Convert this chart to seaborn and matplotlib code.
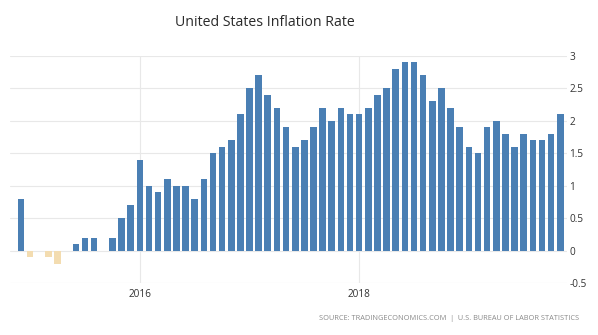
import matplotlib
matplotlib.use("Agg")
import matplotlib.pyplot as plt
import seaborn as sns
import pandas as pd

# Monthly US CPI inflation, year over year (%), Dec 2014 - Nov 2019
months = pd.date_range("2014-12-01", "2019-11-01", freq="MS").strftime("%Y-%m").tolist()
inflation = [
    0.8,
    -0.1, 0.0, -0.1, -0.2, 0.0, 0.1, 0.2, 0.2, 0.0, 0.2, 0.5, 0.7,
    1.4, 1.0, 0.9, 1.1, 1.0, 1.0, 0.8, 1.1, 1.5, 1.6, 1.7, 2.1,
    2.5, 2.7, 2.4, 2.2, 1.9, 1.6, 1.7, 1.9, 2.2, 2.0, 2.2, 2.1,
    2.1, 2.2, 2.4, 2.5, 2.8, 2.9, 2.9, 2.7, 2.3, 2.5, 2.2, 1.9,
    1.6, 1.5, 1.9, 2.0, 1.8, 1.6, 1.8, 1.7, 1.7, 1.8, 2.1,
]
year_ticks = ["2016-01", "2018-01"]
year_labels = ["2016", "2018"]
y_ticks = [-0.5, 0, 0.5, 1, 1.5, 2, 2.5, 3]
y_labels = ["-0.5", "0", "0.5", "1", "1.5", "2", "2.5", "3"]

df = pd.DataFrame({"month": months, "rate": inflation})
df["sign"] = ["neg" if v < 0 else "pos" for v in df["rate"]]

sns.set_theme(style="white")
plt.rcParams["font.family"] = ["Open Sans", "DejaVu Sans"]

fig = plt.figure(figsize=(5.98, 3.35), dpi=100)
ax = fig.add_axes([0.0167, 0.155, 0.931, 0.678])

sns.barplot(
    data=df, x="month", y="rate", hue="sign",
    palette={"pos": "#4a7fb4", "neg": "#f3dcb0"},
    dodge=False, width=0.72, legend=False, ax=ax,
    saturation=1, order=months, linewidth=0, edgecolor="none",
)

grid_c = "#e8e8e8"
for yv in y_ticks:
    ax.axhline(yv, color=grid_c, lw=0.8, zorder=0)
for m in year_ticks:
    ax.axvline(months.index(m), color=grid_c, lw=0.8, zorder=0)

ax.set_xlim(-1.2, 59.7)
ax.set_ylim(-0.5, 3.0)
ax.set_xticks([months.index(m) for m in year_ticks])
ax.set_xticklabels(year_labels)
ax.set_yticks(y_ticks)
ax.set_yticklabels(y_labels)
ax.yaxis.tick_right()
ax.tick_params(axis="both", length=0, labelsize=7.2, colors="#333333")
ax.tick_params(axis="y", pad=2)
ax.tick_params(axis="x", pad=4)
for lbl in ax.get_yticklabels():
    lbl.set_horizontalalignment("left")
ax.set_xlabel("")
ax.set_ylabel("")
for s in ax.spines.values():
    s.set_visible(False)

fig.text(265 / 598, 1 - 22 / 335, "United States Inflation Rate",
         ha="center", va="center", fontsize=10.2, color="#2a2a2a")
fig.text(579 / 598, 1 - 318 / 335,
         "SOURCE: TRADINGECONOMICS.COM  |  U.S. BUREAU OF LABOR STATISTICS",
         ha="right", va="center", fontsize=5.3, color="#8a8a8a")

fig.savefig("out.png", dpi=100, facecolor="white")
